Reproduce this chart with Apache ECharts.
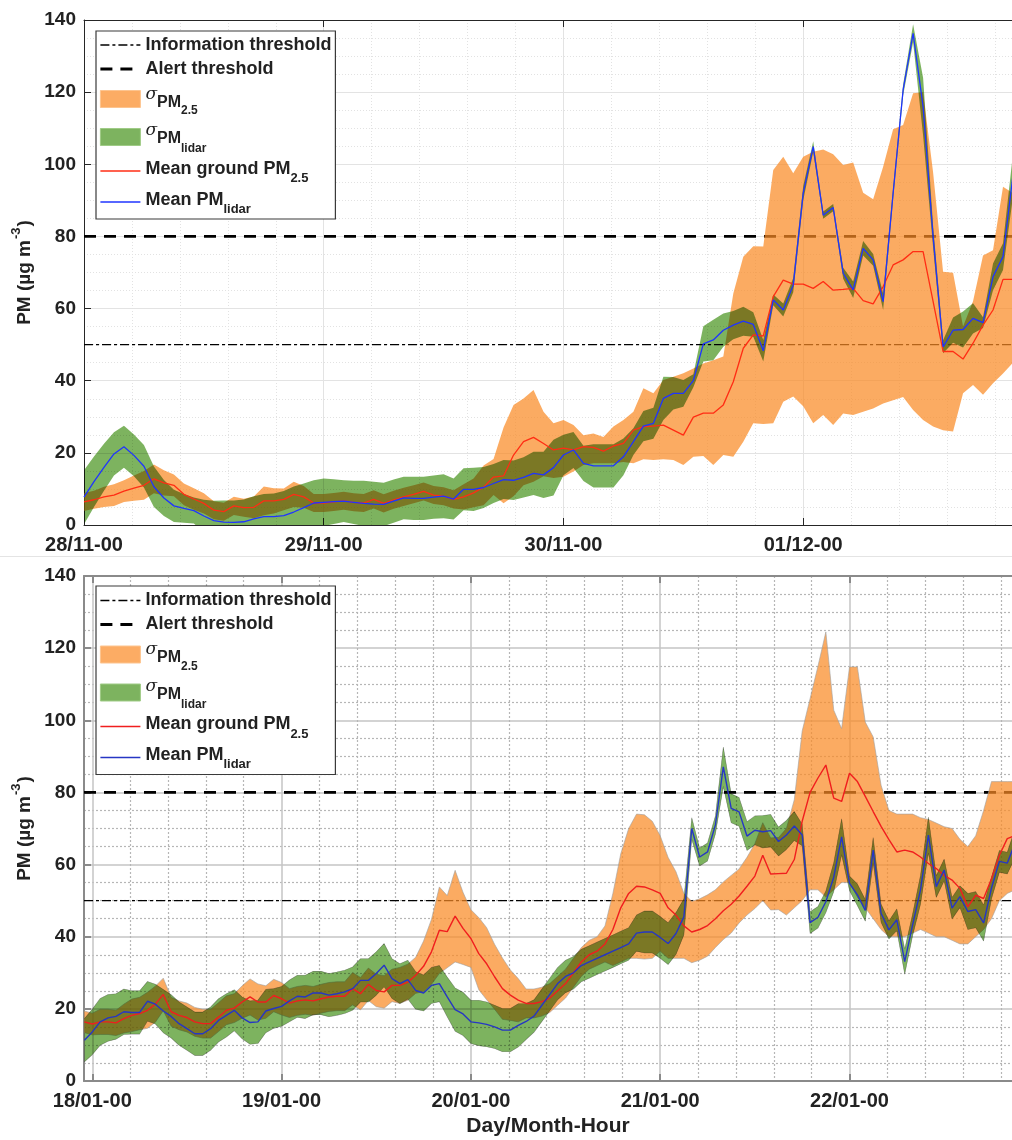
<!DOCTYPE html>
<html>
<head>
<meta charset="utf-8">
<title>PM episodes</title>
<script src="https://cdn.jsdelivr.net/npm/echarts@6/dist/echarts.min.js"></script>
<style>
  html, body { margin: 0; padding: 0; background: #ffffff; }
  #chart { width: 1012px; height: 1140px; }
</style>
</head>
<body>
<div id="chart"></div>
<script>
// ---------------------------------------------------------------
// Shared settings
// ---------------------------------------------------------------
const FONT = '"Liberation Sans", Arial, Helvetica, sans-serif';
const INK = '#222222';

// Regulatory levels, µg m-3
const infoThreshold = 50;
const alertThreshold = 80;

// ---------------------------------------------------------------
// Episode 1: hourly values, first value at 28/11-00 (hour 0)
// ---------------------------------------------------------------
const novFirstHour = 0;
const novDayTicks = [0, 24, 48, 72];
const novDayLabels = ['28/11-00', '29/11-00', '30/11-00', '01/12-00'];

const novGroundMean = [
  6.4, 7.0, 7.8, 8.3, 9.4, 10.2, 11, 12.8, 11.7, 11,
  8.5, 7.2, 6.0, 4.1, 3.7, 5.3, 4.8, 4.9, 6.7, 6.7,
  7.1, 8.5, 7.8, 6.1, 6.1, 6.4, 6.7, 6.3, 6.1, 7.1,
  6.0, 7.0, 7.8, 8.5, 9.3, 8.3, 8.0, 7.1, 7.8, 8.9,
  10.5, 13.3, 13.6, 19.4, 23.1, 24.3, 22.6, 20.8, 21.3, 20.8,
  21.7, 21.5, 20.5, 21.9, 22.6, 26.3, 27.3, 27.4, 27.7, 26.3,
  24.9, 29.9, 31, 31, 33.3, 39.7, 49, 52.7, 52.4, 63.3,
  67.9, 66.8, 66.8, 65.6, 67.5, 65.1, 65.3, 65.6, 62.2, 61.3,
  66.1, 72.1, 73.5, 75.8, 75.8, 62, 48.1, 48.1, 46, 50.4,
  55.4, 59.6, 68.1, 68.1
];
// lower / upper edge of the ground PM2.5 spread band
const novGroundLow = [
  3.9, 4.5, 5.0, 5.3, 6.4, 6.7, 7, 8.8, 8.2, 8,
  5.5, 4.2, 3.2, 1.6, 1.2, 2.8, 2.3, 1.9, 2.7, 3.2,
  4.1, 5, 4.8, 3.6, 3.6, 3.9, 4.2, 3.8, 3.6, 4.6,
  3.5, 4.5, 5.3, 6, 6.8, 5.8, 5.5, 4.6, 4.3, 4.9,
  5.5, 8.3, 6, 8, 11, 12, 13.5, 13, 13.4, 14.8,
  16.6, 17.1, 17.1, 17.1, 17.5, 17.1, 18.2, 18, 18.2, 18,
  16.6, 18.9, 19.1, 16.6, 19.4, 18.9, 23.1, 28.2, 28, 28.2,
  34.2, 35.6, 32.9, 28.2, 30.5, 27.7, 30.9, 30.5, 31.4, 32.3,
  33.7, 34.6, 35.5, 31.9, 29.1, 27.3, 26.3, 25.9, 36.5, 38.8,
  36.1, 39.3, 42, 45
];
const novGroundHigh = [
  8.9, 9.5, 10.6, 11.3, 12.4, 13.7, 15, 16.8, 15.2, 14,
  11.5, 10.2, 8.8, 6.6, 6.2, 7.8, 7.3, 7.9, 10.7, 10.2,
  10.1, 12, 10.8, 8.6, 8.6, 8.9, 9.2, 8.8, 8.6, 9.6,
  8.5, 9.5, 10.3, 11, 11.8, 10.8, 10.5, 9.6, 11.3, 12.9,
  16.5, 18.3, 27, 33.3, 35.1, 37.4, 31.4, 28.2, 29.1, 27.7,
  24.9, 25.4, 24.4, 27.3, 29.1, 31.4, 37.9, 36.5, 40.2, 41.1,
  42.1, 43.4, 44.8, 45.7, 46.7, 64.2, 74.4, 77.3, 77.2, 98.4,
  102.1, 97.5, 102.1, 103.5, 104.1, 102.8, 99.8, 100.5, 92.1, 90.3,
  99.3, 109.7, 110.9, 119.7, 120, 97.8, 70.2, 69.9, 55, 62,
  74.7, 76.2, 93.8, 92
];
const novLidarMean = [
  7.7, 12, 16, 19.7, 21.7, 19.3, 16.3, 10.6, 7.5, 5.3,
  4.6, 4.0, 2.5, 1.2, 0.8, 0.7, 0.9, 1.7, 2.3, 2.3,
  2.6, 3.6, 4.8, 6.1, 6.3, 6.5, 6.6, 6.3, 6.0, 5.8,
  5.7, 6.6, 7.5, 7.4, 7.4, 7.7, 8.0, 7.2, 9.9, 9.9,
  10.4, 11.5, 12.6, 12.4, 13.2, 14.3, 13.9, 15.9, 19.4, 20.8,
  17.1, 16.4, 16.4, 16.4, 18.9, 23.1, 27.4, 28.2, 35.1, 36.5,
  36.5, 40, 50.2, 51.3, 54, 55.4, 56.5, 55.6, 48.3, 62.4,
  59.6, 66.5, 92, 104.9, 85.9, 88, 69.8, 65.2, 76.7, 73.5,
  61.9, 92, 120.6, 136.3, 116, 80, 49.4, 54, 54.2, 57.3,
  56.1, 68.8, 74.4, 97
];
// standard deviation of the lidar-derived PM
const novLidarSd = [
  7.5, 7, 6.5, 6, 5.8, 5.8, 5.9, 5.6, 5, 4.5,
  4, 3.6, 4.5, 5.5, 6, 6.1, 6.2, 6.3, 6.3, 6.4,
  6.8, 7.1, 6.7, 6.3, 6.6, 6.2, 5.8, 6, 6.3, 6.2,
  6, 6, 5.9, 6, 6, 6, 6.1, 5.7, 5.8, 6,
  5.7, 5.4, 5.4, 5.5, 5.6, 6, 6.4, 7.7, 5.6, 5,
  4.9, 6, 6, 6, 5.1, 3.7, 4.2, 4.3, 6, 4.5,
  3.7, 1.8, 4.9, 5.6, 4.6, 3.9, 4, 3.4, 3, 1.5,
  1.8, 2, 2, 1.5, 1, 1, 1.5, 2.3, 2, 1.6,
  2.3, 1.5, 1.5, 2.5, 8, 3, 1.8, 3.5, 5, 4.2,
  1.5, 3.7, 3.7, 6
];

// ---------------------------------------------------------------
// Episode 2: hourly values, first value at 17/01-23 (hour -1 from 18/01-00)
// ---------------------------------------------------------------
const janFirstHour = -1;
const janDayTicks = [0, 24, 48, 72, 96];
const janDayLabels = ['18/01-00', '19/01-00', '20/01-00', '21/01-00', '22/01-00'];

const janGroundMean = [
  16.4,
  15.8, 16.4, 16.4, 16.1, 17.3, 18.2, 18.7, 19.6, 21.3, 24,
  19.2, 18.2, 17.6, 16.4, 15.9, 15.9, 17.7, 19.6, 20.2, 21.9,
  23.3, 21.9, 21.9, 23.7, 22.8, 21.6, 22.2, 22.5, 22.2, 22.8,
  23.3, 23.5, 23.5, 25.6, 24.2, 26.8, 25.1, 24.7, 26.5, 26.5,
  27.4, 29.3, 31.8, 35.8, 41.8, 41.4, 45.7, 42.3, 39.5, 35.3,
  32.5, 28.9, 25.6, 23.8, 22.4, 21.5, 21.5, 22, 23, 25,
  27, 30, 33, 35, 36, 38, 42, 48, 52, 54,
  53.8, 53, 52, 48, 46, 43, 41.3, 42, 43.1, 45,
  47.2, 49, 51.3, 54, 56.8, 62.6, 57.4, 57.5, 57.6, 61.4,
  72, 80, 84, 87.6, 78.4, 77.5, 85.3, 83, 78.9, 74.7,
  70.6, 66.9, 63.5, 64, 63.5, 62.1, 60.3, 58.9, 57, 55.7,
  53.4, 48.3, 51.5, 50.6, 56.1, 62.6, 67.2, 68
];
const janGroundLow = [
  13.4,
  12.8, 12.9, 12.9, 12.6, 13.3, 13.7, 14.2, 14.6, 16.3, 19.5,
  15.2, 14.2, 13.6, 12.4, 11.9, 11.9, 13.7, 15.6, 16.2, 17.4,
  18.3, 16.9, 17.4, 19.2, 18.3, 17.6, 18.2, 18.5, 18.2, 18.8,
  19.3, 19.5, 19.5, 21.1, 19.7, 22.3, 20.6, 20.2, 22, 21.5,
  22.4, 24.3, 24.8, 26.8, 29.8, 31.4, 33, 32.3, 31.5, 25.3,
  22.5, 19.9, 17.1, 16.8, 16.4, 17.5, 17.5, 18, 19, 21,
  23, 26, 29, 31, 32, 33, 32, 33, 34, 34,
  33.8, 34, 36, 34, 34, 34, 32.8, 33.5, 34.6, 37,
  39.2, 41, 43.8, 46, 47.8, 50, 47.4, 47.5, 46, 48,
  50, 53, 53, 51, 53, 55, 55, 51, 48, 45,
  42, 40, 40, 40, 41, 42, 41, 40, 40, 39,
  38, 38, 40, 42, 45, 50, 52, 53
];
const janGroundHigh = [
  19.4,
  18.8, 19.9, 19.9, 19.6, 21.3, 22.7, 23.2, 24.6, 26.3, 28.5,
  23.2, 22.2, 21.6, 20.4, 19.9, 19.9, 21.7, 23.6, 24.2, 26.4,
  28.3, 26.9, 26.4, 28.2, 27.3, 25.6, 26.2, 26.5, 26.2, 26.8,
  27.3, 27.5, 27.5, 30.1, 28.7, 31.3, 29.6, 29.2, 31, 31.5,
  32.4, 34.3, 38.8, 44.8, 53.8, 51.4, 58.4, 52.3, 47.5, 45.3,
  42.5, 37.9, 34.1, 30.8, 28.4, 25.5, 25.5, 26, 27, 29,
  31, 34, 37, 39, 40, 43, 52, 63, 70, 74,
  73.8, 72, 68, 62, 58, 52, 49.8, 50.5, 51.6, 53,
  55.2, 57, 58.8, 62, 65.8, 71.6, 67.4, 67.5, 70, 78,
  97, 106, 115, 124.5, 102.8, 97.7, 114.8, 114.8, 99.5, 95.4,
  82, 75, 74, 74, 74, 73, 72.5, 71.5, 70.5, 70,
  67, 65, 68, 75, 83, 83, 83, 83
];
const janLidarMean = [
  11.3,
  13.6, 16.4, 17.5, 17.9, 19.2, 19.0, 19.0, 22.1, 21.3, 19.4,
  17.9, 15.9, 14.5, 13.1, 13.1, 14.5, 16.8, 18.2, 19.6, 17.5,
  16.2, 16.4, 19.4, 20.1, 20.7, 22.2, 23.5, 23.3, 24.4, 24.4,
  23.8, 24.2, 24.7, 25.6, 27.9, 27.9, 29.8, 32.1, 28.4, 27,
  28.1, 25.1, 24.4, 26.5, 27, 23.3, 19.8, 18.6, 16.4, 16.1,
  15.7, 15, 14.1, 14.1, 15.4, 16.5, 18, 21, 24, 27,
  29, 30, 32, 33, 34, 35, 36, 37, 38, 41,
  41.3, 41.3, 39.8, 38.1, 40.9, 45.5, 70, 62.1, 63.5, 71,
  87.1, 75.6, 74.6, 67.9, 69.5, 69.1, 69.4, 66.4, 68.2, 70.7,
  68.2, 43.9, 45.4, 49.7, 56.5, 67.7, 54.8, 51.6, 47.3, 64,
  46.5, 41.9, 44.7, 33.1, 43.3, 53, 68.2, 53.9, 58.5, 47.9,
  51.1, 47, 47.5, 43.8, 53.5, 60.9, 60.4, 66
];
const janLidarSd = [
  6,
  6.3, 6.5, 6.5, 6.3, 6.3, 6, 6, 5.5, 5.5, 6,
  6, 6, 6, 6, 6, 6, 6, 6, 5.7, 5.8,
  6, 6, 6, 5.5, 5.5, 5.8, 5.8, 6, 6, 6,
  6, 6, 6, 6, 6, 6, 6, 6, 5.5, 5.5,
  5.4, 5.2, 5, 5, 5, 5.5, 6, 6, 6, 6.3,
  6.2, 6, 6, 6, 6, 5, 4.5, 4.5, 4.5, 4.5,
  4.5, 4.5, 4.5, 4.5, 4.5, 4.5, 4.5, 4.5, 4.5, 5,
  5.8, 5.8, 5.8, 5.8, 5.8, 5, 3, 2.5, 2.5, 2.5,
  5.5, 4, 4, 4, 4, 4.5, 4.5, 4, 4, 4,
  3, 3, 3, 3, 4, 5, 2, 3, 3, 3.5,
  2.5, 2.5, 3, 3.5, 3, 4, 5, 3, 3, 3,
  3, 5, 5, 5, 3, 3, 3, 4
];

// ---------------------------------------------------------------
// Panel styling
// ---------------------------------------------------------------
const ORANGE_FILL = 'rgba(250,138,38,0.72)';
const ORANGE_KEY = '#fcac64';
const GREEN_FILL = '#7db35f';

const panels = [
  {
    top: 20, xMin: 0, xMax: 92.9,
    firstHour: novFirstHour, dayTicks: novDayTicks, dayLabels: novDayLabels,
    ground: novGroundMean, groundLow: novGroundLow, groundHigh: novGroundHigh,
    lidar: novLidarMean, lidarSd: novLidarSd,
    frame: '#262626', frameWidth: 1,
    major: '#e3e3e3', majorWidth: 1,
    minor: '#e2e2e2', minorWidth: 1, minorType: [1, 2],
    red: '#ff2d14', blue: '#1f34ff', lineWidth: 1.3, edge: null,
    legendTop: 31, legendPad: [2, 4, 0, 3], xName: ''
  },
  {
    top: 576, xMin: -1.05, xMax: 116.6,
    firstHour: janFirstHour, dayTicks: janDayTicks, dayLabels: janDayLabels,
    ground: janGroundMean, groundLow: janGroundLow, groundHigh: janGroundHigh,
    lidar: janLidarMean, lidarSd: janLidarSd,
    frame: '#8a8a8a', frameWidth: 2,
    major: '#c4c4c4', majorWidth: 1.5,
    minor: '#b6b6b6', minorWidth: 1.2, minorType: [2, 2],
    red: '#f01e1e', blue: '#2636c4', lineWidth: 1.4, edge: '#a0a0a0',
    legendTop: 586, legendPad: [2.5, 4, 0, 3], xName: 'Day/Month-Hour'
  }
];

// minor vertical grid: five divisions per day
function minorHours(p) {
  const out = [];
  for (let k = -5; k <= 30; k++) {
    if (k % 5 === 0) continue;
    const h = +(k * 4.8).toFixed(2);
    if (h > p.xMin && h < p.xMax) out.push(h);
  }
  return out;
}

// ---------------------------------------------------------------
// Legend text (rich text blocks with sub/superscripts)
// ---------------------------------------------------------------
const legendRichText = {
  'Information threshold': '{t|Information threshold}',
  'Alert threshold': '{t|Alert threshold}',
  'σPM2.5': '{sg3|σ}{pm3|PM}{sb3|2.5}',
  'σPMlidar': '{sg4|σ}{pm4|PM}{sb4|lidar}',
  'Mean ground PM2.5': '{t5|Mean ground PM}{sb5|2.5}',
  'Mean PMlidar': '{t6|Mean PM}{sb6|lidar}'
};
// token whose box is padTop + size + padBottom tall, text hung from the top
const tok = (size, padTop, padBottom, extra) => Object.assign({
  fontFamily: FONT, fontSize: size, fontWeight: 'bold', color: INK,
  padding: [padTop, 0, padBottom, 0], lineHeight: size + padTop + padBottom,
  height: size, verticalAlign: 'top'
}, extra || {});
const sig = (padTop) => tok(17, padTop, 0, {
  fontFamily: '"DejaVu Serif", "Liberation Serif", serif', fontWeight: 'normal', fontStyle: 'italic'
});
const legendRich = {
  t: tok(18, 3, 3),                                                  // 24 tall
  sg3: sig(5), pm3: tok(16, 13.5, 0), sb3: tok(12, 24, 0),           // 36 tall
  sg4: sig(5.5), pm4: tok(16, 14, 0), sb4: tok(12, 26, 2),           // 40 tall
  t5: tok(18, 3, 0), sb5: tok(13, 15, 0),                            // 28 tall
  t6: tok(18, 6, 0), sb6: tok(13, 17.5, 3.5)                         // 34 tall
};

// ---------------------------------------------------------------
// Build option
// ---------------------------------------------------------------
const grids = [], xAxes = [], yAxes = [], legends = [], seriesList = [];

panels.forEach((p, k) => {
  grids.push({ left: 84, right: 0, top: p.top, height: 505, outerBoundsMode: 'none' });

  const frameLine = { color: p.frame, width: p.frameWidth };
  const labelFont = { fontFamily: FONT, fontWeight: 'bold', color: INK };

  // main bottom axis with the day labels
  xAxes.push({
    type: 'value', gridIndex: k, position: 'bottom', min: p.xMin, max: p.xMax,
    axisLine: { show: true, onZero: false, lineStyle: frameLine },
    axisTick: { show: true, inside: true, length: 7, customValues: p.dayTicks, lineStyle: frameLine },
    axisLabel: Object.assign({
      show: true, margin: 10, fontSize: 20, customValues: p.dayTicks,
      formatter: (v) => {
        const i = p.dayTicks.indexOf(Math.round(v));
        return i >= 0 ? p.dayLabels[i] : '';
      }
    }, labelFont),
    splitLine: { show: true, lineStyle: { color: p.major, width: p.majorWidth } },
    name: p.xName, nameLocation: 'middle', nameGap: 35, nameMoveOverlap: false,
    nameTextStyle: { fontFamily: FONT, fontSize: 21, fontWeight: 'bold', color: INK }
  });
  // top frame edge
  xAxes.push({
    type: 'value', gridIndex: k, position: 'top', min: p.xMin, max: p.xMax,
    axisLine: { show: true, onZero: false, lineStyle: frameLine },
    axisTick: { show: true, inside: true, length: 7, customValues: p.dayTicks, lineStyle: frameLine },
    axisLabel: { show: false, customValues: p.dayTicks },
    splitLine: { show: false }
  });
  // minor vertical grid lines
  const minors = minorHours(p);
  xAxes.push({
    type: 'value', gridIndex: k, position: 'bottom', min: p.xMin, max: p.xMax,
    axisLine: { show: false, onZero: false },
    axisTick: { show: false, customValues: minors },
    axisLabel: { show: false, customValues: minors },
    splitLine: { show: true, lineStyle: { color: p.minor, width: p.minorWidth, type: p.minorType } }
  });

  yAxes.push({
    type: 'value', gridIndex: k, min: 0, max: 140, interval: 20,
    axisLine: { show: true, onZero: false, lineStyle: frameLine },
    axisTick: { show: true, inside: true, length: 7, lineStyle: frameLine },
    axisLabel: Object.assign({ margin: 8, fontSize: 19 }, labelFont),
    splitLine: { show: true, lineStyle: { color: p.major, width: p.majorWidth } },
    minorTick: { show: false, splitNumber: 4 },
    minorSplitLine: { show: true, lineStyle: { color: p.minor, width: p.minorWidth, type: p.minorType } },
    name: '{a|PM (µg m}{b|-3}{a|)}', nameLocation: 'middle', nameGap: 50, nameRotate: 90,
    nameMoveOverlap: false,
    nameTextStyle: {
      rich: {
        a: { fontFamily: FONT, fontSize: 19, fontWeight: 'bold', color: INK, padding: [5, 0, 0, 0], verticalAlign: 'top' },
        b: { fontFamily: FONT, fontSize: 13, fontWeight: 'bold', color: INK, padding: [0, 1, 0, 1], verticalAlign: 'top' }
      }
    }
  });

  const xi = 3 * k, yi = k;
  const hourOf = (i) => p.firstHour + i;
  const at = (arr) => arr.map((v, i) => [hourOf(i), v]);
  // band rows are [value, hour] so that the stacked dimension is the y value
  const bandEncode = { x: 1, y: 0 };
  const groundBase = p.groundLow.map((lo, i) => [lo, hourOf(i)]);
  const groundSpan = p.groundHigh.map((hi, i) => [hi - p.groundLow[i], hourOf(i)]);
  const lidarBase = p.lidar.map((m, i) => [m - p.lidarSd[i], hourOf(i)]);
  const lidarSpan = p.lidarSd.map((s, i) => [2 * s, hourOf(i)]);
  const edgeStyle = p.edge ? { color: p.edge, width: 0.6 } : { width: 0, opacity: 0 };

  seriesList.push(
    {
      type: 'line', name: 'Information threshold', xAxisIndex: xi, yAxisIndex: yi,
      data: [[p.xMin, infoThreshold], [p.xMax, infoThreshold]],
      symbol: 'none', silent: true, z: 2,
      lineStyle: { color: '#000000', width: 1.4, type: [9, 3, 3, 3] }
    },
    {
      type: 'line', name: 'Alert threshold', xAxisIndex: xi, yAxisIndex: yi,
      data: [[p.xMin, alertThreshold], [p.xMax, alertThreshold]],
      symbol: 'none', silent: true, z: 2,
      lineStyle: { color: '#000000', width: 2.8, type: [12, 8] }
    },
    {
      type: 'line', name: 'groundLow' + k, xAxisIndex: xi, yAxisIndex: yi,
      stack: 'ground' + k, stackStrategy: 'all', encode: bandEncode,
      data: groundBase, symbol: 'none', silent: true, z: 3,
      lineStyle: edgeStyle
    },
    {
      type: 'line', name: 'σPM2.5', xAxisIndex: xi, yAxisIndex: yi,
      stack: 'ground' + k, stackStrategy: 'all', encode: bandEncode,
      data: groundSpan, symbol: 'none', silent: true, z: 3,
      lineStyle: p.edge ? edgeStyle : { width: 0, color: ORANGE_KEY },
      areaStyle: { color: ORANGE_FILL, opacity: 1 }
    },
    {
      type: 'line', name: 'lidarLow' + k, xAxisIndex: xi, yAxisIndex: yi,
      stack: 'lidar' + k, stackStrategy: 'all', encode: bandEncode,
      data: lidarBase, symbol: 'none', silent: true, z: 4,
      lineStyle: edgeStyle, blendMode: 'multiply'
    },
    {
      type: 'line', name: 'σPMlidar', xAxisIndex: xi, yAxisIndex: yi,
      stack: 'lidar' + k, stackStrategy: 'all', encode: bandEncode,
      data: lidarSpan, symbol: 'none', silent: true, z: 4,
      lineStyle: p.edge ? edgeStyle : { width: 0, color: GREEN_FILL },
      areaStyle: { color: GREEN_FILL, opacity: 1 },
      blendMode: 'multiply'
    },
    {
      type: 'line', name: 'Mean ground PM2.5', xAxisIndex: xi, yAxisIndex: yi,
      data: at(p.ground), symbol: 'none', silent: true, z: 5,
      lineStyle: { color: p.red, width: p.lineWidth }
    },
    {
      type: 'line', name: 'Mean PMlidar', xAxisIndex: xi, yAxisIndex: yi,
      data: at(p.lidar), symbol: 'none', silent: true, z: 6,
      lineStyle: { color: p.blue, width: p.lineWidth }
    }
  );

  const hidden = { opacity: 0, color: 'rgba(0,0,0,0)', borderWidth: 0 };
  legends.push({
    orient: 'vertical', left: 96, top: p.legendTop, padding: p.legendPad,
    itemGap: 0, itemWidth: 40, itemHeight: 17, selectedMode: false, z: 20,
    backgroundColor: '#ffffff', borderColor: '#3a3a3a', borderWidth: 1.2, borderRadius: 0,
    data: [
      { name: 'Information threshold', itemStyle: hidden, lineStyle: { color: '#000', width: 1.4, type: [9, 3, 3, 3] } },
      { name: 'Alert threshold', itemStyle: hidden, lineStyle: { color: '#000', width: 2.8, type: [12, 8] } },
      { name: 'σPM2.5', icon: 'rect', itemStyle: { color: ORANGE_KEY, borderColor: '#fdc48f', borderWidth: 1 } },
      { name: 'σPMlidar', icon: 'rect', itemStyle: { color: GREEN_FILL, borderColor: '#9fcb86', borderWidth: 1 } },
      { name: 'Mean ground PM2.5', itemStyle: hidden, lineStyle: { color: p.red, width: 1.4, type: 'solid' } },
      { name: 'Mean PMlidar', itemStyle: hidden, lineStyle: { color: p.blue, width: 1.4, type: 'solid' } }
    ],
    formatter: (name) => legendRichText[name] || name,
    textStyle: { fontFamily: FONT, fontSize: 18, fontWeight: 'bold', color: INK, rich: legendRich }
  });
});

const option = {
  backgroundColor: '#ffffff',
  animation: false,
  textStyle: { fontFamily: FONT },
  grid: grids,
  xAxis: xAxes,
  yAxis: yAxes,
  legend: legends,
  series: seriesList,
  graphic: [{
    type: 'rect', silent: true, z: 0,
    shape: { x: 0, y: 556, width: 1012, height: 1 },
    style: { fill: '#e4e4e4' }
  }]
};

const chart = echarts.init(document.getElementById('chart'), null, { renderer: 'canvas' });
chart.setOption(option);
</script>
</body>
</html>
